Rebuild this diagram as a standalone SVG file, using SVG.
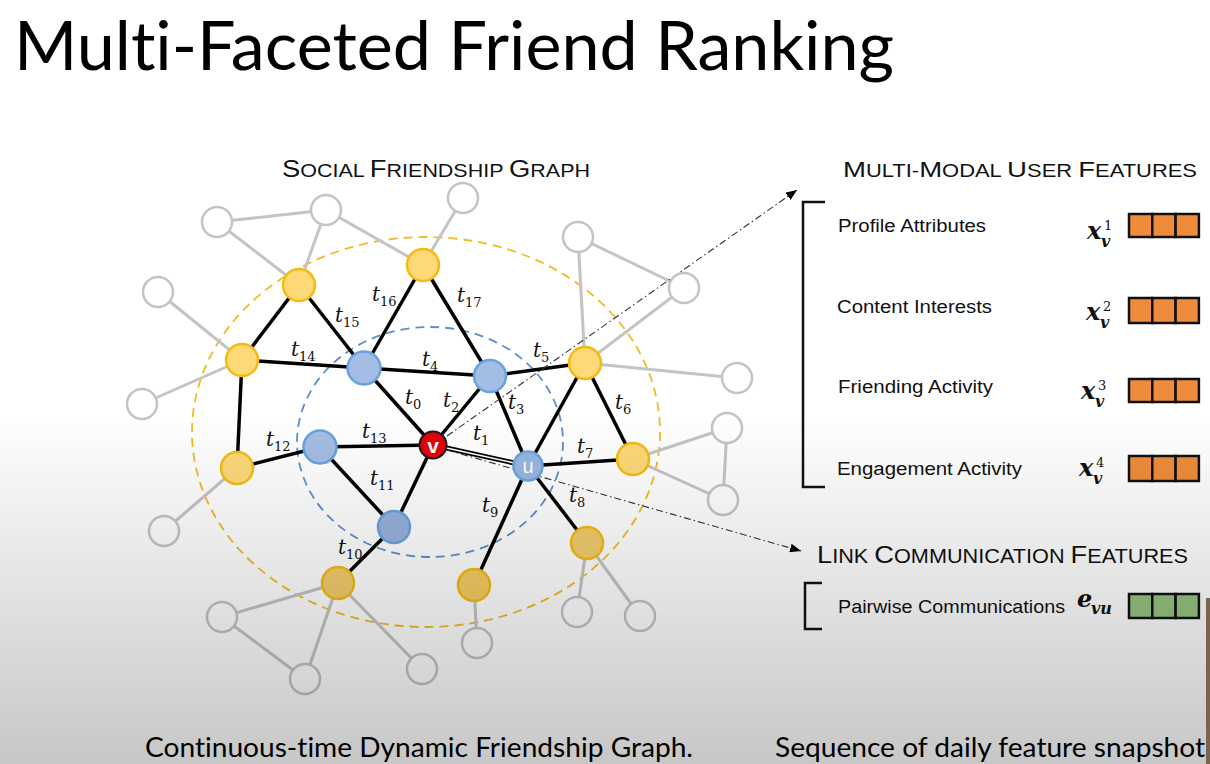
<svg xmlns="http://www.w3.org/2000/svg" width="1210" height="764" viewBox="0 0 1210 764">
<defs>
<linearGradient id="shade" x1="0" y1="0" x2="0" y2="764" gradientUnits="userSpaceOnUse">
<stop offset="0" stop-color="#000" stop-opacity="0"/>
<stop offset="0.54" stop-color="#000" stop-opacity="0"/>
<stop offset="1" stop-color="#000" stop-opacity="0.22"/>
</linearGradient>
<marker id="arr" viewBox="0 0 10 8" refX="10" refY="4" markerWidth="11" markerHeight="9" markerUnits="userSpaceOnUse" orient="auto">
<path d="M0,0 L10,4 L0,8 z" fill="#000"/>
</marker>
<style>
.ge{stroke:#c4c4c4;stroke-width:3;fill:none}
.be{stroke:#000;stroke-width:3.5;fill:none}
.gn{fill:#fff;stroke:#c4c4c4;stroke-width:2.5}
.yn{fill:#fdd978;stroke:#f4bb12;stroke-width:2.5}
.bn{fill:#a3bde4;stroke:#68a3dc;stroke-width:2.5}
.ring{fill:none;stroke-width:1.8;stroke-dasharray:9 6}
.tl{font-family:"DejaVu Serif","Liberation Serif",serif;font-style:italic;font-size:20px;fill:#111}
.sb{font-style:normal;font-size:13px}
.sc{font-family:"Liberation Sans",Arial,sans-serif;fill:#111}
.fl{font-family:"Liberation Sans",Arial,sans-serif;font-size:18px;fill:#111}
.mx{font-family:"DejaVu Serif","Liberation Serif",serif;font-weight:bold;font-style:italic;fill:#111}
.sup{font-family:"DejaVu Serif","Liberation Serif",serif;font-weight:normal;font-style:normal;font-size:13px;fill:#111}
.cell{stroke:#111;stroke-width:2.5}
.or{fill:#ef8c3b}
.gr{fill:#97c480}
.dd{stroke:#333;stroke-width:1.1;stroke-dasharray:7 3 1.5 3;fill:none}
.big{font-family:Lato,"Open Sans",sans-serif;fill:#000;font-variant-ligatures:none;font-feature-settings:"liga" 0,"clig" 0}
</style>
</defs>
<rect x="0" y="0" width="1210" height="764" fill="#fff"/>

<text class="big" x="14" y="70" font-size="67" textLength="880" lengthAdjust="spacingAndGlyphs">Multi-Faceted Friend Ranking</text>

<text class="sc" x="282" y="177" textLength="308" lengthAdjust="spacingAndGlyphs"><tspan font-size="23">S</tspan><tspan font-size="18">OCIAL </tspan><tspan font-size="23">F</tspan><tspan font-size="18">RIENDSHIP </tspan><tspan font-size="23">G</tspan><tspan font-size="18">RAPH</tspan></text>

<ellipse class="ring" cx="426" cy="432" rx="234" ry="195" stroke="#f2bb22"/>
<ellipse class="ring" cx="430" cy="442" rx="133" ry="115" stroke="#5b8fd0"/>

<g id="connectors">
<line class="ge" x1="217" y1="222" x2="326" y2="210"/>
<line class="ge" x1="217" y1="222" x2="299" y2="285"/>
<line class="ge" x1="326" y1="210" x2="299" y2="285"/>
<line class="ge" x1="326" y1="210" x2="423" y2="265"/>
<line class="ge" x1="463" y1="198" x2="423" y2="265"/>
<line class="ge" x1="158" y1="292" x2="242" y2="360"/>
<line class="ge" x1="142" y1="404" x2="242" y2="360"/>
<line class="ge" x1="237" y1="468" x2="164" y2="531"/>
<line class="ge" x1="578" y1="237" x2="684" y2="288"/>
<line class="ge" x1="578" y1="237" x2="585" y2="363"/>
<line class="ge" x1="684" y1="288" x2="585" y2="363"/>
<line class="ge" x1="585" y1="363" x2="737" y2="378"/>
<line class="ge" x1="633" y1="459" x2="727" y2="428"/>
<line class="ge" x1="633" y1="459" x2="723" y2="500"/>
<line class="ge" x1="727" y1="428" x2="723" y2="500"/>
<line class="ge" x1="338" y1="583" x2="222" y2="617"/>
<line class="ge" x1="338" y1="583" x2="305" y2="679"/>
<line class="ge" x1="338" y1="583" x2="422" y2="669"/>
<line class="ge" x1="222" y1="617" x2="305" y2="679"/>
<line class="ge" x1="474" y1="585" x2="477" y2="643"/>
<line class="ge" x1="587" y1="543" x2="577" y2="612"/>
<line class="ge" x1="587" y1="543" x2="640" y2="616"/>

<line class="be" x1="299" y1="285" x2="242" y2="360"/>
<line class="be" x1="299" y1="285" x2="364" y2="368"/>
<line class="be" x1="423" y1="265" x2="364" y2="368"/>
<line class="be" x1="423" y1="265" x2="490" y2="376"/>
<line class="be" x1="242" y1="360" x2="364" y2="368"/>
<line class="be" x1="242" y1="360" x2="237" y2="468"/>
<line class="be" x1="364" y1="368" x2="490" y2="376"/>
<line class="be" x1="364" y1="368" x2="433" y2="445"/>
<line class="be" x1="490" y1="376" x2="433" y2="445"/>
<line class="be" x1="490" y1="376" x2="528" y2="466"/>
<line class="be" x1="490" y1="376" x2="585" y2="363"/>
<line class="be" x1="585" y1="363" x2="528" y2="466"/>
<line class="be" x1="585" y1="363" x2="633" y2="459"/>
<line class="be" x1="528" y1="466" x2="633" y2="459"/>
<line class="be" x1="528" y1="466" x2="587" y2="543"/>
<line class="be" x1="528" y1="466" x2="474" y2="585"/>
<line class="be" x1="237" y1="468" x2="320" y2="447"/>
<line class="be" x1="320" y1="447" x2="433" y2="445"/>
<line class="be" x1="320" y1="447" x2="394" y2="527"/>
<line class="be" x1="394" y1="527" x2="433" y2="445"/>
<line class="be" x1="394" y1="527" x2="338" y2="583"/>
<line x1="433" y1="445" x2="528" y2="466" stroke="#000" stroke-width="5"/>
<line x1="433" y1="445" x2="528" y2="466" stroke="#fff" stroke-width="1.6"/>

<line class="dd" x1="447" y1="436" x2="797" y2="190" marker-end="url(#arr)"/>
<line class="dd" x1="447" y1="450" x2="801" y2="551" marker-end="url(#arr)"/>
</g>

<g id="gray-nodes">
<circle id="g1" class="gn" cx="217" cy="222" r="15"/>
<circle id="g2" class="gn" cx="326" cy="210" r="15"/>
<circle id="g3" class="gn" cx="463" cy="198" r="15"/>
<circle id="g4" class="gn" cx="158" cy="292" r="15"/>
<circle id="g5" class="gn" cx="142" cy="404" r="15"/>
<circle id="g6" class="gn" cx="578" cy="237" r="15"/>
<circle id="g7" class="gn" cx="684" cy="288" r="15"/>
<circle id="g8" class="gn" cx="737" cy="378" r="15"/>
<circle id="g9" class="gn" cx="727" cy="428" r="15"/>
<circle id="g10" class="gn" cx="723" cy="500" r="15"/>
<circle id="g11" class="gn" cx="164" cy="531" r="15"/>
<circle id="g12" class="gn" cx="222" cy="617" r="15"/>
<circle id="g13" class="gn" cx="305" cy="679" r="15"/>
<circle id="g14" class="gn" cx="422" cy="669" r="15"/>
<circle id="g15" class="gn" cx="477" cy="643" r="15"/>
<circle id="g16" class="gn" cx="577" cy="612" r="15"/>
<circle id="g17" class="gn" cx="640" cy="616" r="15"/>
</g>

<g id="yellow-nodes">
<circle id="y1" class="yn" cx="299" cy="285" r="16"/>
<circle id="y2" class="yn" cx="423" cy="265" r="16"/>
<circle id="y3" class="yn" cx="242" cy="360" r="16"/>
<circle id="y4" class="yn" cx="585" cy="363" r="16"/>
<circle id="y5" class="yn" cx="237" cy="468" r="16"/>
<circle id="y6" class="yn" cx="633" cy="459" r="16"/>
<circle id="y7" class="yn" cx="338" cy="583" r="16" style="fill:#f2cd6e"/>
<circle id="y8" class="yn" cx="474" cy="585" r="16" style="fill:#f6cd62"/>
<circle id="y9" class="yn" cx="587" cy="543" r="16" style="fill:#f2cd6c"/>
</g>

<g id="blue-nodes">
<circle id="b1" class="bn" cx="364" cy="368" r="16.5"/>
<circle id="b2" class="bn" cx="490" cy="376" r="16"/>
<circle id="b3" class="bn" cx="320" cy="447" r="16.5"/>
<circle id="b4" class="bn" cx="394" cy="527" r="16" style="fill:#98b2dc"/>
</g>

<g id="node-v">
<circle cx="433" cy="445" r="13.5" fill="#e5000b" stroke="#1a1a1a" stroke-width="2"/>
<text x="433" y="453" text-anchor="middle" font-family="Liberation Sans,Arial,sans-serif" font-weight="bold" font-size="21" fill="#fff">v</text>
</g>
<g id="node-u">
<circle cx="528" cy="466" r="14.5" fill="#97b8e2" stroke="#6aa6e0" stroke-width="2.5"/>
<text x="528" y="473" text-anchor="middle" font-family="Liberation Sans,Arial,sans-serif" font-size="20" fill="#fff">u</text>
</g>

<g id="edge-labels">
<text class="tl" x="372" y="301">t<tspan class="sb" dy="5">16</tspan></text>
<text class="tl" x="457" y="302">t<tspan class="sb" dy="5">17</tspan></text>
<text class="tl" x="335" y="322">t<tspan class="sb" dy="5">15</tspan></text>
<text class="tl" x="291" y="356">t<tspan class="sb" dy="5">14</tspan></text>
<text class="tl" x="422" y="366">t<tspan class="sb" dy="5">4</tspan></text>
<text class="tl" x="533" y="357">t<tspan class="sb" dy="5">5</tspan></text>
<text class="tl" x="405" y="404">t<tspan class="sb" dy="5">0</tspan></text>
<text class="tl" x="443" y="407">t<tspan class="sb" dy="5">2</tspan></text>
<text class="tl" x="508" y="409">t<tspan class="sb" dy="5">3</tspan></text>
<text class="tl" x="615" y="409">t<tspan class="sb" dy="5">6</tspan></text>
<text class="tl" x="266" y="446">t<tspan class="sb" dy="5">12</tspan></text>
<text class="tl" x="362" y="438">t<tspan class="sb" dy="5">13</tspan></text>
<text class="tl" x="473" y="440">t<tspan class="sb" dy="5">1</tspan></text>
<text class="tl" x="577" y="453">t<tspan class="sb" dy="5">7</tspan></text>
<text class="tl" x="370" y="485">t<tspan class="sb" dy="5">11</tspan></text>
<text class="tl" x="569" y="502">t<tspan class="sb" dy="5">8</tspan></text>
<text class="tl" x="482" y="512">t<tspan class="sb" dy="5">9</tspan></text>
<text class="tl" x="338" y="554">t<tspan class="sb" dy="5">10</tspan></text>
</g>

<g id="user-features">
<text class="sc" x="843" y="177" textLength="354" lengthAdjust="spacingAndGlyphs"><tspan font-size="22">M</tspan><tspan font-size="17.5">ULTI-</tspan><tspan font-size="22">M</tspan><tspan font-size="17.5">ODAL </tspan><tspan font-size="22">U</tspan><tspan font-size="17.5">SER </tspan><tspan font-size="22">F</tspan><tspan font-size="17.5">EATURES</tspan></text>
<path d="M825,202 H803 V487 H825" fill="none" stroke="#111" stroke-width="2.5"/>
<text class="fl" x="838" y="232" textLength="148" lengthAdjust="spacingAndGlyphs">Profile Attributes</text>
<text class="fl" x="837" y="313" textLength="155" lengthAdjust="spacingAndGlyphs">Content Interests</text>
<text class="fl" x="838" y="393" textLength="155" lengthAdjust="spacingAndGlyphs">Friending Activity</text>
<text class="fl" x="837" y="475" textLength="185" lengthAdjust="spacingAndGlyphs">Engagement Activity</text>

<text class="mx" x="1087" y="239" font-size="24">x</text><text class="sup" x="1104" y="230">1</text><text class="mx" x="1101" y="247" font-size="16">v</text>
<text class="mx" x="1086" y="320" font-size="24">x</text><text class="sup" x="1103" y="311">2</text><text class="mx" x="1100" y="328" font-size="16">v</text>
<text class="mx" x="1081" y="399" font-size="24">x</text><text class="sup" x="1098" y="390">3</text><text class="mx" x="1095" y="407" font-size="16">v</text>
<text class="mx" x="1079" y="476" font-size="24">x</text><text class="sup" x="1096" y="467">4</text><text class="mx" x="1093" y="484" font-size="16">v</text>

<g class="cell or">
<rect x="1129" y="214" width="23.3" height="23"/><rect x="1152.3" y="214" width="23.3" height="23"/><rect x="1175.6" y="214" width="23.3" height="23"/>
<rect x="1129" y="298" width="23.3" height="25"/><rect x="1152.3" y="298" width="23.3" height="25"/><rect x="1175.6" y="298" width="23.3" height="25"/>
<rect x="1129" y="379" width="23.3" height="23"/><rect x="1152.3" y="379" width="23.3" height="23"/><rect x="1175.6" y="379" width="23.3" height="23"/>
<rect x="1129" y="456" width="23.3" height="25"/><rect x="1152.3" y="456" width="23.3" height="25"/><rect x="1175.6" y="456" width="23.3" height="25"/>
</g>
</g>

<g id="link-features">
<text class="sc" x="817" y="563" textLength="371" lengthAdjust="spacingAndGlyphs"><tspan font-size="24.5">L</tspan><tspan font-size="19.5">INK </tspan><tspan font-size="24.5">C</tspan><tspan font-size="19.5">OMMUNICATION </tspan><tspan font-size="24.5">F</tspan><tspan font-size="19.5">EATURES</tspan></text>
<path d="M822,583 H805 V629 H822" fill="none" stroke="#111" stroke-width="2.5"/>
<text class="fl" x="838" y="613" font-size="18.5" textLength="227" lengthAdjust="spacingAndGlyphs">Pairwise Communications</text>
<text class="mx" x="1077" y="607" font-size="24">e</text><text class="mx" x="1091" y="614" font-size="16">vu</text>
<g class="cell gr">
<rect x="1129" y="594" width="23.3" height="24"/><rect x="1152.3" y="594" width="23.3" height="24"/><rect x="1175.6" y="594" width="23.3" height="24"/>
</g>
</g>

<text class="big" x="145" y="757" font-size="27" textLength="548" lengthAdjust="spacingAndGlyphs">Continuous-time Dynamic Friendship Graph.</text>
<text class="big" x="775" y="757" font-size="27" textLength="430" lengthAdjust="spacingAndGlyphs">Sequence of daily feature snapshot</text>

<rect x="0" y="0" width="1210" height="764" fill="url(#shade)"/>
<rect x="1206" y="598" width="4" height="166" fill="#7a6450"/>
</svg>
